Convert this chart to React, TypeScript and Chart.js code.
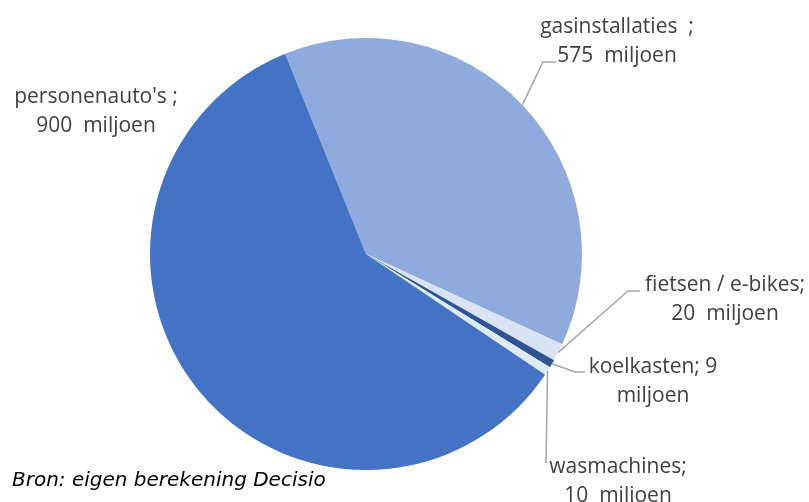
import React, { useEffect, useRef } from "react";
import { Chart, registerables } from "chart.js";

Chart.register(...registerables);

const categories = ["gasinstallaties", "fietsen / e-bikes", "koelkasten", "wasmachines", "personenauto's"];
const values = [575, 20, 9, 10, 900];
const labelLines = [
  ["gasinstallaties  ;", "575  miljoen"],
  ["fietsen / e-bikes;", "20  miljoen"],
  ["koelkasten; 9", "miljoen"],
  ["wasmachines;", "10  miljoen"],
  ["personenauto's ;", "900  miljoen"],
];
const sourceNote = "Bron: eigen berekening Decisio";

const colors = ["#8FAADC", "#DAE3F3", "#2F5597", "#DEEBF7", "#4472C4"];

// layout of labels (pixel positions): text center x, first line y, leader elbow & end
const labelLayout = [
  { x: 617, y: 27, elbow: [543, 62], end: [556, 62] },
  { x: 725, y: 285, elbow: [628, 291], end: [640, 291] },
  { x: 653, y: 367, elbow: [575, 372], end: [585, 372] },
  { x: 618, y: 467, elbow: [546, 463], end: [546, 463] },
  { x: 96, y: 97, elbow: null, end: null },
];

const labelPlugin = {
  id: "pieLabels",
  afterDraw(chart: any) {
    const ctx = chart.ctx;
    const meta = chart.getDatasetMeta(0);
    ctx.save();
    meta.data.forEach((arc: any, i: number) => {
      const lay = labelLayout[i];
      const p = arc.getProps(["x", "y", "startAngle", "endAngle", "outerRadius"], true);
      const mid = (p.startAngle + p.endAngle) / 2;
      const sx = p.x + Math.cos(mid) * p.outerRadius;
      const sy = p.y + Math.sin(mid) * p.outerRadius;
      if (lay.elbow) {
        ctx.beginPath();
        ctx.strokeStyle = "#A6A6A6";
        ctx.lineWidth = 1.5;
        ctx.moveTo(sx, sy);
        ctx.lineTo(lay.elbow[0], lay.elbow[1]);
        ctx.lineTo(lay.end![0], lay.end![1]);
        ctx.stroke();
      }
      ctx.fillStyle = "#404040";
      ctx.font = "21px 'Open Sans'";
      ctx.textAlign = "center";
      ctx.textBaseline = "middle";
      labelLines[i].forEach((t, j) => {
        ctx.fillText(t, lay.x, lay.y + j * 29);
      });
    });
    ctx.font = "italic 20px 'DejaVu Sans'";
    ctx.fillStyle = "#000000";
    ctx.textAlign = "left";
    ctx.textBaseline = "middle";
    ctx.fillText(sourceNote, 12, 481);
    ctx.restore();
  },
};

export default function App() {
  const ref = useRef<HTMLCanvasElement>(null);
  useEffect(() => {
    const chart = new Chart(ref.current!, {
      type: "pie",
      data: {
        labels: categories,
        datasets: [
          {
            data: values,
            backgroundColor: colors,
            borderWidth: 0,
          },
        ],
      },
      options: {
        animation: false,
        responsive: false,
        rotation: -22,
        layout: { padding: { top: 38, bottom: 32, left: 150, right: 227 } },
        plugins: {
          legend: { display: false },
          tooltip: { enabled: false },
        },
      },
      plugins: [labelPlugin],
    });
    return () => chart.destroy();
  }, []);
  return (
    <div style={{ position: "absolute", left: 0, top: 0, width: 809, height: 502, background: "#fff" }}>
      <canvas ref={ref} width={809} height={502} />
    </div>
  );
}
